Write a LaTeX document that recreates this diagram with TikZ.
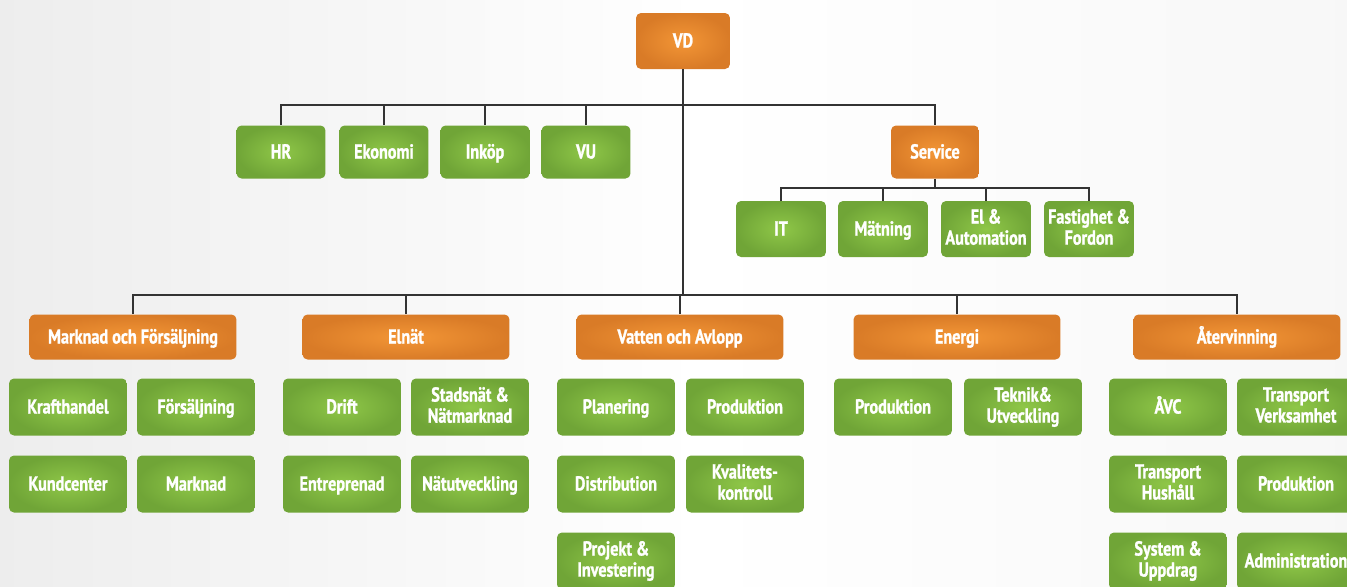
\documentclass[tikz,border=0pt]{standalone}
\usepackage{fontspec}
\setmainfont{PT Sans}[FakeStretch=0.8, BoldFeatures={FakeBold=1.2}]
\definecolor{orgin}{HTML}{F39636}
\definecolor{orgout}{HTML}{D97B27}
\definecolor{grnin}{HTML}{8FC748}
\definecolor{grnout}{HTML}{70A537}
\definecolor{linegray}{HTML}{333333}
\tikzset{
  box/.style={rounded corners=0.1cm, inner sep=1pt, align=center,
    text=white, font=\bfseries\fontsize{11.5}{12}\selectfont,
    execute at begin node=\vphantom{Äg}},
  chief/.style={box, inner color=orgin, outer color=orgout},
  unit/.style={box, inner color=grnin, outer color=grnout},
  staff/.style={unit, minimum width=1.78cm, minimum height=1.06cm},
  servunit/.style={unit, minimum width=1.8cm, minimum height=1.12cm},
  dept/.style={chief, minimum width=4.14cm, minimum height=0.9cm},
  sub/.style={unit, minimum width=2.36cm, minimum height=1.14cm},
  link/.style={draw=linegray, line width=0.6pt},
}
\begin{document}
\begin{tikzpicture}[x=0.02cm, y=-0.02cm]
      \useasboundingbox (0,0) rectangle (1347,586);
      \clip (0,0) rectangle (1347,586);
      \shade[left color=black!7, right color=white] (0,0) rectangle (700,586);
      \shade[left color=white, right color=black!3] (700,0) rectangle (1347,586);
      % top level
      \node[chief, minimum width=1.88cm, minimum height=1.12cm] (vd) at (683,41) {VD};
      \draw
        (281,152) node[staff] (hr){HR}
        (384,152) node[staff] (ekonomi){Ekonomi}
        (485,152) node[staff] (inkop){Inköp}
        (586,152) node[staff] (vu){VU}
        (935,152) node[chief, minimum width=1.76cm, minimum height=1.06cm] (service){Service};
      \draw
        (781,229) node[servunit] (it){IT}
        (883,229) node[servunit] (matning){Mätning}
        (986,229) node[servunit] (elaut){El \&\\Automation}
        (1089,229) node[servunit] (fastighet){Fastighet \&\\Fordon};
      % departments
      \draw
        (133,337) node[dept] (marknad){Marknad och Försäljning}
        (406,337) node[dept] (elnat){Elnät}
        (680,337) node[dept] (vatten){Vatten och Avlopp}
        (957,337) node[dept] (energi){Energi}
        (1237,337) node[dept] (atervinning){Återvinning};
      \draw
        (68,407) node[sub] (krafthandel){Krafthandel}
        (196,407) node[sub] (forsaljning){Försäljning}
        (68,484) node[sub] (kundcenter){Kundcenter}
        (196,484) node[sub] (marknadsub){Marknad}
        (342,407) node[sub] (drift){Drift}
        (470,407) node[sub] (stadsnat){Stadsnät \&\\Nätmarknad}
        (342,484) node[sub] (entreprenad){Entreprenad}
        (470,484) node[sub] (natutv){Nätutveckling}
        (616,407) node[sub] (planering){Planering}
        (745,407) node[sub] (vaprod){Produktion}
        (616,484) node[sub] (distribution){Distribution}
        (745,484) node[sub] (kvalitet){Kvalitets-\\kontroll}
        (616,561) node[sub] (projekt){Projekt \&\\Investering}
        (893,407) node[sub] (enprod){Produktion}
        (1023,407) node[sub] (teknik){Teknik\&\\Utveckling}
        (1168,407) node[sub] (avc){ÅVC}
        (1296,407) node[sub] (trverk){Transport\\Verksamhet}
        (1168,484) node[sub] (trhush){Transport\\Hushåll}
        (1296,484) node[sub] (avprod){Produktion}
        (1168,561) node[sub] (system){System \&\\Uppdrag}
        (1296,561) node[sub] (admin){Administration};
      % connectors
      \coordinate (topbus) at (683,105);
      \coordinate (servbus) at (935,188);
      \coordinate (deptbus) at (683,295);
      \begin{scope}[link]
        \draw (vd.south) -- (deptbus);
        \draw (hr.north) |- (topbus) -| (service.north);
        \draw (ekonomi.north) -- (ekonomi.north |- topbus);
        \draw (inkop.north) -- (inkop.north |- topbus);
        \draw (vu.north) -- (vu.north |- topbus);
        \draw (service.south) -- (servbus);
        \draw (it.north) |- (servbus) -| (fastighet.north);
        \draw (matning.north) -- (matning.north |- servbus);
        \draw (elaut.north) -- (elaut.north |- servbus);
        \draw (marknad.north) |- (deptbus) -| (atervinning.north);
        \draw (elnat.north) -- (elnat.north |- deptbus);
        \draw (vatten.north) -- (vatten.north |- deptbus);
        \draw (energi.north) -- (energi.north |- deptbus);
      \end{scope}
    \end{tikzpicture}
\end{document}
